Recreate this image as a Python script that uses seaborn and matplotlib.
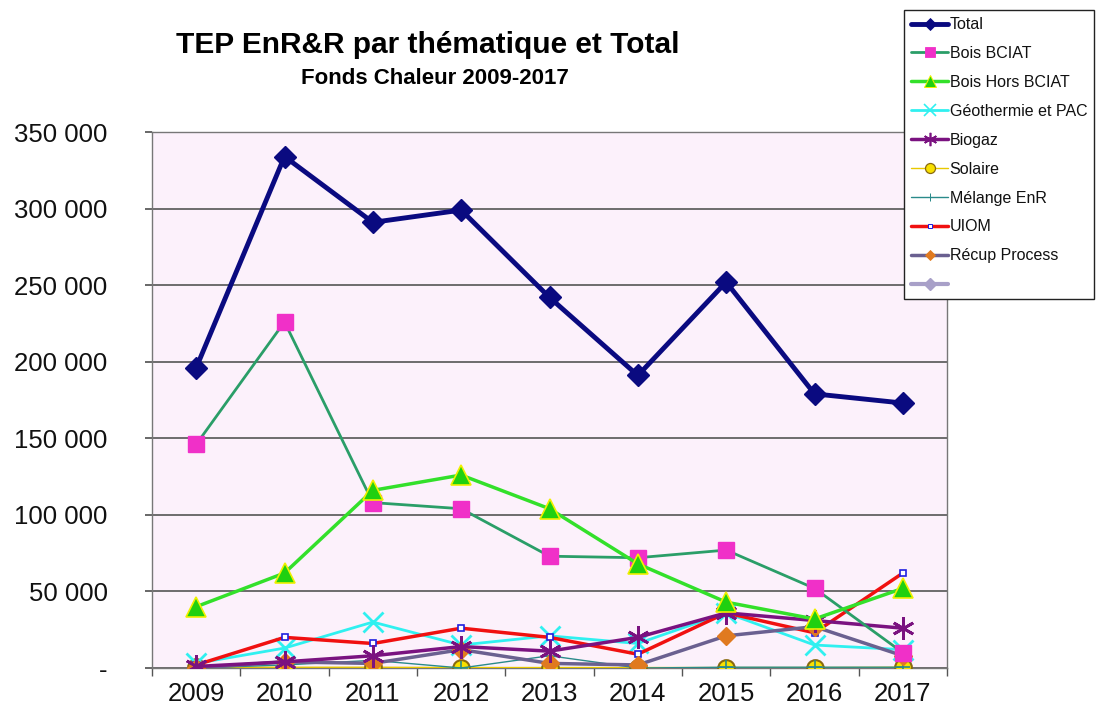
import matplotlib
matplotlib.use("Agg")
import matplotlib.pyplot as plt
import seaborn as sns
import numpy as np
from matplotlib.lines import Line2D
from matplotlib.ticker import FuncFormatter, FixedLocator

years = [2009, 2010, 2011, 2012, 2013, 2014, 2015, 2016, 2017]
total = [196000, 334000, 291000, 299000, 242000, 191000, 252000, 179000, 173000]
bois_bciat = [146000, 226000, 108000, 104000, 73000, 72000, 77000, 52000, 10000]
bois_hors = [40000, 62000, 116000, 126000, 104000, 68000, 43000, 32000, 52000]
geo_pac = [3000, 13000, 30000, 15000, 21000, 16000, 36000, 15000, 12000]
biogaz = [1000, 4000, 8000, 14000, 11000, 20000, 36000, 31000, 26000]
solaire = [500, 500, 500, 300, 300, 300, 300, 300, 500]
melange = [0, 2000, 5000, 0, 8000, 0, 500, 500, 500]
uiom = [2000, 20000, 16000, 26000, 20000, 9000, 36000, 23000, 62000]
recup = [0, 4000, 3000, 12000, 3000, 2000, 21000, 27000, 8000]
labels = ["Total", "Bois BCIAT", "Bois Hors BCIAT", "Géothermie et PAC", "Biogaz",
          "Solaire", "Mélange EnR", "UIOM", "Récup Process", ""]
y_ticks = [0, 50000, 100000, 150000, 200000, 250000, 300000, 350000]

sns.set_theme(style="white")
plt.rcParams['font.family'] = ['Liberation Sans', 'DejaVu Sans']
plt.rcParams['text.color'] = '#111111'

fig = plt.figure(figsize=(11.02, 7.14), dpi=100)
ax = fig.add_axes([152/1102, 1-668/714, (947-152)/1102, (668-132)/714])
ax.set_facecolor("#FCF1FB")

styles = [
    (total, dict(color="#0A0A80", lw=3.5, marker="D", ms=11, mfc="#0A0A80", mec="#0A0A80", zorder=10)),
    (bois_bciat, dict(color="#2A9E68", lw=2, marker="s", ms=11, mfc="#F030C8", mec="#F030C8", zorder=8)),
    (bois_hors, dict(color="#33E02A", lw=2.5, marker="^", ms=14, mfc="#20D010", mec="#F0F000", mew=1.2, zorder=9)),
    (geo_pac, dict(color="#30F0F0", lw=2, marker="x", ms=14, mfc="#30F0F0", mec="#30F0F0", mew=2, zorder=6)),
    (biogaz, dict(color="#7A1280", lw=2.5, marker=(6, 2, 0), ms=16, mfc="#7A1280", mec="#7A1280", mew=2, zorder=7)),
    (solaire, dict(color="#E8C800", lw=1, marker="o", ms=12, mfc="#F8E000", mec="#8A6A10", mew=1.5, zorder=5)),
    (melange, dict(color="#2A8A8A", lw=1, marker="+", ms=10, mfc="#2A8A8A", mec="#2A8A8A", mew=1.2, zorder=5)),
    (uiom, dict(color="#F01010", lw=2.5, marker="s", ms=5, mfc="white", mec="#2020E0", mew=1.2, zorder=6)),
    (recup, dict(color="#6A6090", lw=2.5, marker="D", ms=9, mfc="#E07A20", mec="#E07A20", zorder=6)),
]

handles = []
for (vals, st), lab in zip(styles, labels):
    sns.lineplot(x=years, y=vals, ax=ax, color=st["color"], linewidth=st["lw"],
                 marker=st["marker"], markersize=st["ms"], markerfacecolor=st["mfc"],
                 markeredgecolor=st["mec"], markeredgewidth=st.get("mew", 1),
                 zorder=st["zorder"], legend=False)
    handles.append(Line2D([], [], color=st["color"], lw=st["lw"], marker=st["marker"],
                          ms=st["ms"] * 0.6, mfc=st["mfc"], mec=st["mec"],
                          mew=st.get("mew", 1) * 0.6, label=lab))
handles.append(Line2D([], [], color="#A8A0C8", lw=3, marker="D", ms=6, mfc="#A8A0C8",
                      mec="#A8A0C8", label=" "))

ax.set_xlim(2008.5, 2017.5)
ax.set_ylim(0, 350000)
ax.set_xticks(years)
ax.xaxis.set_minor_locator(FixedLocator(np.arange(2008.5, 2018, 1)))
ax.set_yticks(y_ticks)
ax.yaxis.set_major_formatter(FuncFormatter(lambda v, p: "-" if v == 0 else f"{int(v):,}".replace(",", " ")))
ax.tick_params(axis="x", which="major", length=0, labelsize=18.5, pad=10, colors="#111111")
ax.tick_params(axis="x", which="minor", length=6, color="#555555", width=1, direction="out", bottom=True)
ax.tick_params(axis="y", length=5, color="#555555", labelsize=18.5, pad=27, colors="#111111", left=True)
for lbl in ax.get_yticklabels():
    lbl.set_horizontalalignment("right")
ax.grid(axis="y", color="#555555", lw=1.2)
ax.grid(axis="x", visible=False)
for s in ax.spines.values():
    s.set_color("#777777")
    s.set_linewidth(1)
ax.set_xlabel("")
ax.set_ylabel("")

fig.text(428/1102, 1-45/714, "TEP EnR&R par thématique et Total", ha="center", va="center",
         fontsize=21.5, fontweight="bold", color="black")
fig.text(435/1102, 1-79/714, "Fonds Chaleur 2009-2017", ha="center", va="center",
         fontsize=16, fontweight="bold", color="black")

leg = fig.legend(handles=handles, loc="upper left", bbox_to_anchor=(904/1102, 1-10/714),
                 fontsize=11.5, frameon=True, fancybox=False, handlelength=2.3,
                 labelspacing=0.87, handletextpad=0.1, borderpad=0.45, borderaxespad=0)
leg.get_frame().set_edgecolor("#222222")
leg.get_frame().set_linewidth(1)
leg.get_frame().set_alpha(1)

fig.savefig("out.png", dpi=100)
